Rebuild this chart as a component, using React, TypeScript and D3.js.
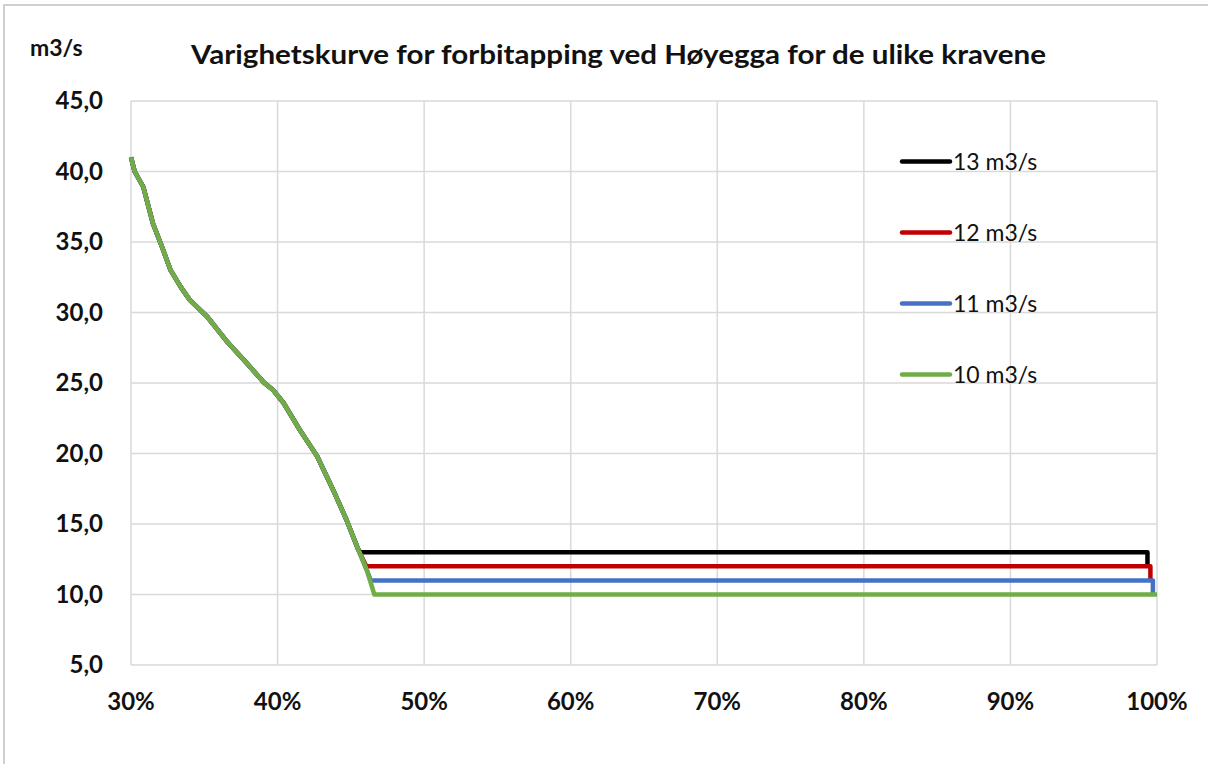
import React from "react";
import * as d3 from "d3";

// Base duration curve (share of time exceeded, flow m3/s)
const curveX = [0.300, 0.3025, 0.3084, 0.315, 0.321, 0.327, 0.334, 0.340, 0.352, 0.365, 0.379, 0.391, 0.397, 0.404, 0.415, 0.427, 0.438, 0.447, 0.455, 0.461, 0.466];
const curveY = [41.0, 40.0, 38.9, 36.3, 34.7, 33.0, 31.8, 30.9, 29.7, 28.0, 26.4, 25.0, 24.5, 23.6, 21.7, 19.8, 17.4, 15.3, 13.2, 11.7, 10.0];

// Series (requirements)
const seriesNames = ["13 m3/s", "12 m3/s", "11 m3/s", "10 m3/s"];
const requirements = [13, 12, 11, 10];
const plateauStart = [0.4565, 0.4605, 0.4635, 0.466];
const plateauEnd = [0.9935, 0.9955, 0.9972, 1.0];
const endValue = [12, 11, 10, 10];
const seriesColors = ["#000000", "#C00000", "#4472C4", "#70AD47"];

const yTicks = [5, 10, 15, 20, 25, 30, 35, 40, 45];
const xTicks = [0.3, 0.4, 0.5, 0.6, 0.7, 0.8, 0.9, 1.0];

const W = 1208;
const H = 764;

export default function App() {
  const x = d3.scaleLinear().domain([0.3, 1.0]).range([131, 1157]);
  const y = d3.scaleLinear().domain([5, 45]).range([665, 101]);
  const line = d3
    .line<[number, number]>()
    .x((d) => x(d[0]))
    .y((d) => y(d[1]));

  const seriesPts = requirements.map((req, i) => {
    const pts: [number, number][] = [];
    curveX.forEach((cx, j) => {
      if (curveY[j] > req) pts.push([cx, curveY[j]]);
    });
    pts.push([plateauStart[i], req]);
    pts.push([plateauEnd[i], req]);
    if (endValue[i] < req) pts.push([plateauEnd[i], endValue[i]]);
    return pts;
  });

  const font = "Lato, 'Open Sans', sans-serif";
  const fmt = (v: number) => v.toFixed(1).replace(".", ",");

  return (
    <svg width={W} height={H} style={{ position: "absolute", left: 0, top: 0, background: "#fff" }}>
      <rect x={0} y={0} width={W} height={H} fill="#fff" />
      <rect x={4} y={5} width={W + 10} height={H + 10} fill="none" stroke="#d0d0d0" strokeWidth={2} />

      {/* gridlines */}
      {yTicks.map((t) => (
        <line key={"gy" + t} x1={x(0.3)} x2={x(1)} y1={y(t)} y2={y(t)} stroke="#d9d9d9" strokeWidth={1.5} />
      ))}
      {xTicks.map((t) => (
        <line key={"gx" + t} x1={x(t)} x2={x(t)} y1={y(5)} y2={y(45)} stroke="#d9d9d9" strokeWidth={1.5} />
      ))}

      {/* y labels */}
      {yTicks.map((t) => (
        <text key={"ly" + t} x={103} y={y(t)} dy="0.35em" textAnchor="end" fontFamily={font} fontWeight={700} fontSize={24} fill="#111">
          {fmt(t)}
        </text>
      ))}
      {/* x labels */}
      {xTicks.map((t) => (
        <text key={"lx" + t} x={x(t)} y={702} dy="0.35em" textAnchor="middle" fontFamily={font} fontWeight={700} fontSize={24} fill="#111">
          {Math.round(t * 100) + "%"}
        </text>
      ))}

      {/* series */}
      {seriesPts.map((pts, i) => (
        <path key={"s" + i} d={line(pts) || ""} fill="none" stroke={seriesColors[i]} strokeWidth={4.5} strokeLinejoin="round" />
      ))}

      {/* legend */}
      {seriesNames.map((name, i) => {
        const ly = 161.5 + i * 71;
        return (
          <g key={"lg" + i}>
            <line x1={902} x2={950} y1={ly} y2={ly} stroke={seriesColors[i]} strokeWidth={4.5} strokeLinecap="round" />
            <text x={953} y={ly} dy="0.35em" fontFamily={font} fontSize={23} fill="#111">
              {name}
            </text>
          </g>
        );
      })}

      {/* titles */}
      <text x={30} y={48} dy="0.35em" fontFamily={font} fontWeight={700} fontSize={23} fill="#111">
        m3/s
      </text>
      <text x={191} y={55} dy="0.35em" fontFamily={font} fontWeight={700} fontSize={27} fill="#111" textLength={855} lengthAdjust="spacingAndGlyphs">
        Varighetskurve for forbitapping ved Høyegga for de ulike kravene
      </text>
    </svg>
  );
}
